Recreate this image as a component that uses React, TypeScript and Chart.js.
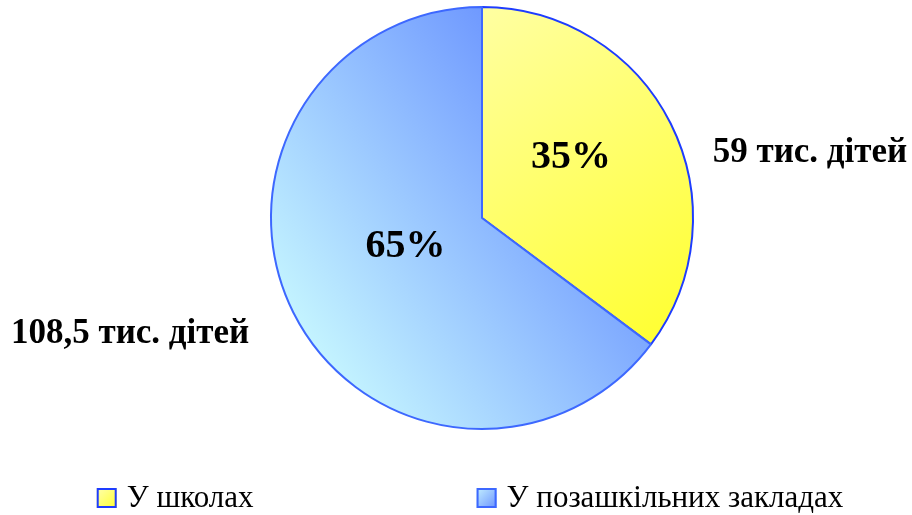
import { useEffect, useRef } from "react";
import { Chart, registerables } from "chart.js";

Chart.register(...registerables);

// ---- data ----
const categories = ["У школах", "У позашкільних закладах"];
const childrenThousands = [59, 108.5];
const percentLabels = ["35%", "65%"];
const amountLabels = ["59 тис. дітей", "108,5 тис. дітей"];

// ---- styles ----
const FONT = '"Liberation Serif", "Times New Roman", serif';
const fallbackColors = ["#FFFF66", "#99C8FF"];
const borderColors = ["#1E3CFF", "#3D68FF"];
// label anchors (centre x, alphabetic baseline y) as fractions of pie radius
const pctPos = [
  [0.42, -0.236],
  [-0.361, 0.184],
];
const amountPos = [
  [1.547, -0.264],
  [-1.66, 0.59],
];

function geom(chart: any) {
  const a = chart.chartArea;
  const cx = (a.left + a.right) / 2;
  const cy = (a.top + a.bottom) / 2;
  const r = Math.min(a.right - a.left, a.bottom - a.top) / 2;
  return { cx, cy, r };
}

function sliceFill(ctx: any) {
  const chart = ctx.chart;
  if (!chart.chartArea) return fallbackColors[ctx.dataIndex];
  const { cx, cy, r } = geom(chart);
  const c = chart.ctx as CanvasRenderingContext2D;
  if (ctx.dataIndex === 0) {
    const g = c.createLinearGradient(cx, cy - r, cx + r, cy + 0.6 * r);
    g.addColorStop(0, "#FFFFA2");
    g.addColorStop(1, "#FFFF2C");
    return g;
  }
  const ang = (35 * Math.PI) / 180;
  const dx = Math.cos(ang) * r;
  const dy = Math.sin(ang) * r;
  const g = c.createLinearGradient(cx - dx, cy + dy, cx + dx, cy - dy);
  g.addColorStop(0, "#C4F4FF");
  g.addColorStop(1, "#5880FF");
  return g;
}

const labelsPlugin = {
  id: "pieLabels",
  afterDatasetsDraw(chart: any) {
    const { cx, cy, r } = geom(chart);
    const c = chart.ctx as CanvasRenderingContext2D;
    c.save();
    c.fillStyle = "#000";
    c.textAlign = "center";
    c.textBaseline = "alphabetic";
    c.font = `bold 40px ${FONT}`;
    percentLabels.forEach((t, i) => {
      c.fillText(t, cx + pctPos[i][0] * r, cy + pctPos[i][1] * r);
    });
    c.font = `bold 35px ${FONT}`;
    amountLabels.forEach((t, i) => {
      c.fillText(t, cx + amountPos[i][0] * r, cy + amountPos[i][1] * r);
    });
    c.restore();
  },
};

const legendPlugin = {
  id: "wideLegend",
  afterDraw(chart: any) {
    const c = chart.ctx as CanvasRenderingContext2D;
    const box = 20;
    const gapText = 10;
    const itemGap = 223;
    const centerX = 470;
    const boxTop = 488;
    const baseline = 507;
    c.save();
    c.font = `31px ${FONT}`;
    c.textBaseline = "alphabetic";
    c.textAlign = "left";
    const widths = categories.map((t) => box + gapText + c.measureText(t).width);
    const total = widths.reduce((s, w) => s + w, 0) + itemGap * (categories.length - 1);
    let x = centerX - total / 2;
    const boxColors = [
      ["#FFFFB0", "#FFFF30"],
      ["#C4F0FF", "#6A92FF"],
    ];
    categories.forEach((t, i) => {
      const g = c.createLinearGradient(x, boxTop, x + box, boxTop + box);
      g.addColorStop(0, boxColors[i][0]);
      g.addColorStop(1, boxColors[i][1]);
      c.fillStyle = g;
      c.fillRect(x, boxTop, box, box);
      c.lineWidth = 2;
      c.strokeStyle = borderColors[i];
      c.strokeRect(x + 1, boxTop + 1, box - 2, box - 2);
      c.fillStyle = "#000";
      c.fillText(t, x + box + gapText, baseline);
      x += widths[i] + itemGap;
    });
    c.restore();
  },
};

export default function App() {
  const ref = useRef<HTMLCanvasElement>(null);
  useEffect(() => {
    const canvas = ref.current;
    if (!canvas) return;
    const chart = new Chart(canvas, {
      type: "pie",
      data: {
        labels: categories,
        datasets: [
          {
            data: childrenThousands,
            backgroundColor: sliceFill as any,
            borderColor: borderColors,
            borderWidth: 2,
          },
        ],
      },
      options: {
        responsive: false,
        animation: false,
        layout: { padding: { top: 6, bottom: 85, left: 52, right: 0 } },
        plugins: {
          legend: { display: false },
          tooltip: { enabled: false },
        },
      },
      plugins: [labelsPlugin, legendPlugin],
    });
    return () => chart.destroy();
  }, []);
  return (
    <div style={{ position: "absolute", left: 0, top: 0, width: 912, height: 515, background: "#fff" }}>
      <canvas ref={ref} width={912} height={515} style={{ display: "block" }} />
    </div>
  );
}
